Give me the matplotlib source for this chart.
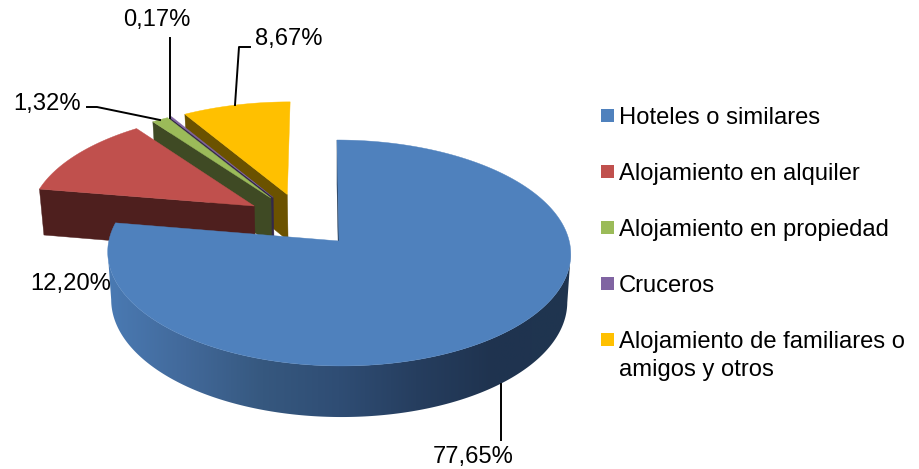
import numpy as np
import matplotlib
matplotlib.use('Agg')
import matplotlib.pyplot as plt
from matplotlib.colors import LinearSegmentedColormap
from matplotlib.patches import Polygon, Rectangle

plt.rcParams['font.family'] = ['Liberation Sans', 'DejaVu Sans']

categories = ['Hoteles o similares', 'Alojamiento en alquiler', 'Alojamiento en propiedad',
              'Cruceros', 'Alojamiento de familiares o\namigos y otros']
values = [77.65, 12.20, 1.32, 0.17, 8.67]
value_labels = ['77,65%', '12,20%', '1,32%', '0,17%', '8,67%']

colors = ['#4f81bd', '#c0504d', '#9bbb59', '#8064a2', '#ffc000']
dark_colors = ['#1f3550', '#4e1f1e', '#3f4a24', '#33284a', '#6b5200']
blue_side = ['#4a7ab3', '#42699a', '#36587f', '#2f4d74', '#263e5f', '#1f334f', '#1f3550']

# pie geometry, pixels
ORIGIN = (339, 241)
RX, RY = 230.2, 111.7
PERSP = 0.106
SHEAR = 0.02
DEPTH = 47.5
EXPLODE = 0.252
FONT = 17.15


def project(X, Y):
    w = 1 + PERSP * Y
    dx = RX * X / w
    dy = -RY * Y / w
    top_x = ORIGIN[0] + dx + SHEAR * dy
    top_y = ORIGIN[1] + dy
    bottom_x = ORIGIN[0] + 0.985 * dx + SHEAR * dy
    bottom_y = top_y + DEPTH * w ** -0.65
    return top_x, top_y, bottom_x, bottom_y


fractions = np.array(values) / sum(values)
edges = np.concatenate([[0], np.cumsum(fractions)]) * 2 * np.pi
mids = (edges[:-1] + edges[1:]) / 2
# the first slice's apex is the reference point of the picture
off_x = EXPLODE * (np.sin(mids) - np.sin(mids[0]))
off_y = EXPLODE * (np.cos(mids) - np.cos(mids[0]))

fig = plt.figure(figsize=(9.2, 4.69), dpi=100)
ax = fig.add_axes([0, 0, 1, 1])


def draw_slice(i, z):
    t = np.linspace(edges[i], edges[i + 1], max(3, int((edges[i + 1] - edges[i]) * 80)))
    tx, ty, bx, by = project(off_x[i] + np.sin(t), off_y[i] + np.cos(t))
    ax_, ay_, abx, aby = project(off_x[i], off_y[i])

    if i == 0:
        # curved wall with the gradient, between the extremes of both arcs
        a, b = np.argmax(tx), np.argmin(tx)
        c, d = np.argmax(bx), np.argmin(bx)
        wall = Polygon(np.column_stack([np.r_[tx[a:b + 1], bx[c:d + 1][::-1]],
                                        np.r_[ty[a:b + 1], by[c:d + 1][::-1]]]),
                       facecolor='none', edgecolor='none')
        ax.add_patch(wall)
        cmap = LinearSegmentedColormap.from_list('side', blue_side)
        im = ax.imshow(np.linspace(0, 1, 256)[None, :], cmap=cmap, aspect='auto',
                       extent=[108, 571, 430, 200], zorder=z)
        im.set_clip_path(wall)

    # cut face at the start of the slice
    face = [(ax_, ay_), (tx[0], ty[0]), (bx[0], by[0]), (abx, aby)]
    ax.add_patch(Polygon(face, facecolor=dark_colors[i], edgecolor=dark_colors[i],
                         linewidth=0.3, zorder=z))
    ax.add_patch(Polygon(np.column_stack([np.r_[ax_, tx], np.r_[ay_, ty]]),
                         facecolor=colors[i], edgecolor=colors[i], linewidth=0.3,
                         zorder=z + 0.05))


# back to front, blue goes over everything else
draw_slice(4, 1.0)
draw_slice(3, 1.1)
draw_slice(2, 1.2)
draw_slice(1, 1.3)
draw_slice(0, 2.0)

# leader lines
ax.plot([501.5, 501.5], [384, 440], color='black', lw=1.4, zorder=3)
ax.plot([170, 170], [38, 118], color='black', lw=1.4, zorder=3)
ax.plot([87, 97, 160], [107, 107, 120], color='black', lw=1.4, zorder=3)
ax.plot([250, 239, 235], [47, 47, 105], color='black', lw=1.4, zorder=3)

label_pos = [(473, 457), (71, 284), (47.5, 104), (156.5, 20), (289, 39)]
for txt, (x, y) in zip(value_labels, label_pos):
    ax.text(x, y, txt, fontsize=FONT, ha='center', va='center', color='black', zorder=4)

# legend
legend_y = [116, 172, 228, 284, 340]
for name, col, y in zip(categories, colors, legend_y):
    ax.add_patch(Rectangle((601, y - 6.5), 13, 13, facecolor=col, edgecolor='none', zorder=3))
    ax.text(619, y + 2, name.split('\n')[0], fontsize=FONT, ha='left', va='center',
            color='black', zorder=4)
    if '\n' in name:
        ax.text(619, y + 30, name.split('\n')[1], fontsize=FONT, ha='left', va='center',
                color='black', zorder=4)

ax.set_xlim(0, 920)
ax.set_ylim(469, 0)
ax.axis('off')

plt.savefig('out.png', dpi=100)
